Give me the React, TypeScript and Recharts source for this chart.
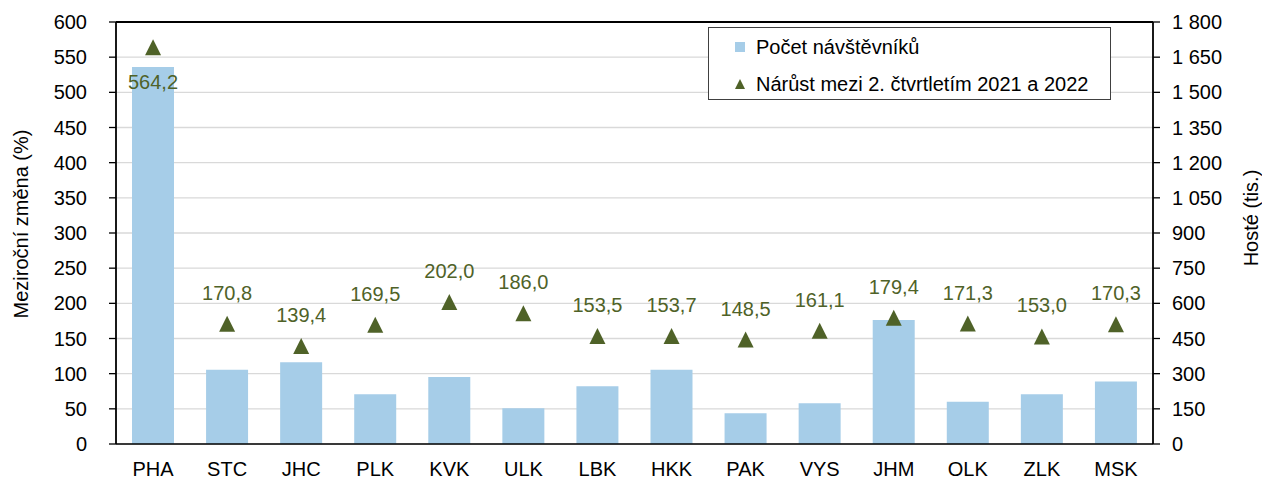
import React from "react";
import {
  Bar,
  CartesianGrid,
  ComposedChart,
  Label,
  Legend,
  Line,
  ReferenceLine,
  XAxis,
  YAxis,
} from "recharts";

// regions (kraje) in chart order
const regions = ["PHA", "STC", "JHC", "PLK", "KVK", "ULK", "LBK", "HKK", "PAK", "VYS", "JHM", "OLK", "ZLK", "MSK"];
// guests in thousands (right axis)
const guests = [1608, 317, 349, 212, 286, 152, 246, 317, 131, 174, 529, 180, 212, 267];
// year-on-year change, % (left axis)
const growth = [564.2, 170.8, 139.4, 169.5, 202.0, 186.0, 153.5, 153.7, 148.5, 161.1, 179.4, 171.3, 153.0, 170.3];

const leftTicks = [0, 50, 100, 150, 200, 250, 300, 350, 400, 450, 500, 550, 600];
const rightTicks = [0, 150, 300, 450, 600, 750, 900, 1050, 1200, 1350, 1500, 1650, 1800];

const data = regions.map((region, i) => ({ region, guests: guests[i], growth: growth[i] }));

const FONT = "'Liberation Sans', Arial, sans-serif";
const BAR = "#a6cde8";
const OLIVE = "#4f6228";

const fmtThousands = (v: number) => String(v).replace(/\B(?=(\d{3})+(?!\d))/g, " ");
const fmtPct = (v: number) => v.toFixed(1).replace(".", ",");

function Triangle(props: any) {
  const { cx, cy, index } = props;
  if (cx == null || cy == null) return <g key={index} />;
  return <path key={index} d={`M${cx},${cy - 8}L${cx + 8},${cy + 8}L${cx - 8},${cy + 8}Z`} fill={OLIVE} />;
}

function PctLabel(props: any) {
  const { x, y, value, index } = props;
  // the PHA label sits below its marker, the rest above
  const dy = value > 500 ? 35 : -31;
  return (
    <text
      key={index}
      x={x}
      y={y + dy}
      textAnchor="middle"
      dominantBaseline="central"
      fill={OLIVE}
      fontSize={20}
      fontFamily={FONT}
    >
      {fmtPct(value)}
    </text>
  );
}

function LegendBox() {
  return (
    <div
      style={{
        width: 403,
        height: 73,
        boxSizing: "border-box",
        border: "1px solid #404040",
        background: "#fff",
        fontFamily: FONT,
        fontSize: 20,
        color: "#000",
        position: "relative",
      }}
    >
      <div style={{ position: "absolute", left: 26, top: 19 - 13, height: 26, display: "flex", alignItems: "center" }}>
        <span style={{ width: 10, height: 10, background: BAR, display: "inline-block", marginRight: 11 }} />
        <span>Počet návštěvníků</span>
      </div>
      <div style={{ position: "absolute", left: 26, top: 56 - 13, height: 26, display: "flex", alignItems: "center" }}>
        <svg width={10} height={10} style={{ marginRight: 11 }}>
          <path d="M5,0L10,10L0,10Z" fill={OLIVE} />
        </svg>
        <span>Nárůst mezi 2. čtvrtletím 2021 a 2022</span>
      </div>
    </div>
  );
}

export default function App() {
  const tickStyle = { fill: "#000", fontSize: 20, fontFamily: FONT };
  return (
    <div style={{ position: "absolute", left: 0, top: 0, background: "#fff" }}>
      <ComposedChart width={1262} height={479} data={data} margin={{ top: 22, right: 0, bottom: 0, left: 0 }}>
        <CartesianGrid yAxisId="left" vertical={false} stroke="#d9d9d9" strokeWidth={1.3} />
        <XAxis
          dataKey="region"
          height={35}
          tickLine={false}
          tickSize={0}
          tickMargin={18}
          axisLine={{ stroke: "#000", strokeWidth: 1.6 }}
          tick={tickStyle}
          interval={0}
        />
        <YAxis
          yAxisId="left"
          width={116}
          domain={[0, 600]}
          ticks={leftTicks}
          interval={0}
          tickSize={7}
          tickMargin={22}
          tickLine={{ stroke: "#000", strokeWidth: 1.3 }}
          axisLine={{ stroke: "#000", strokeWidth: 1.8 }}
          tick={tickStyle}
        >
          <Label
            content={() => (
              <text
                x={21}
                y={224}
                transform="rotate(-90 21 224)"
                textAnchor="middle"
                dominantBaseline="central"
                fontSize={20}
                fontFamily={FONT}
                fill="#000"
              >
                Meziroční změna (%)
              </text>
            )}
          />
        </YAxis>
        <YAxis
          yAxisId="right"
          orientation="right"
          width={109}
          domain={[0, 1800]}
          ticks={rightTicks}
          interval={0}
          tickSize={7}
          tickMargin={12}
          tickFormatter={fmtThousands}
          tickLine={{ stroke: "#000", strokeWidth: 1.3 }}
          axisLine={{ stroke: "#000", strokeWidth: 1.8 }}
          tick={tickStyle}
        >
          <Label
            content={() => (
              <text
                x={1251}
                y={218}
                transform="rotate(-90 1251 218)"
                textAnchor="middle"
                dominantBaseline="central"
                fontSize={20}
                fontFamily={FONT}
                fill="#000"
              >
                Hosté (tis.)
              </text>
            )}
          />
        </YAxis>
        <ReferenceLine yAxisId="left" y={600} stroke="#000" strokeWidth={1.8} />
        <Bar yAxisId="right" dataKey="guests" fill={BAR} barSize={42} isAnimationActive={false} />
        <Line
          yAxisId="left"
          dataKey="growth"
          stroke="none"
          dot={Triangle}
          activeDot={false}
          label={PctLabel}
          isAnimationActive={false}
        />
        <Legend
          layout="vertical"
          align="center"
          verticalAlign="middle"
          content={<LegendBox />}
          wrapperStyle={{ left: 708, top: 27, width: 403, height: 73 }}
        />
      </ComposedChart>
    </div>
  );
}
